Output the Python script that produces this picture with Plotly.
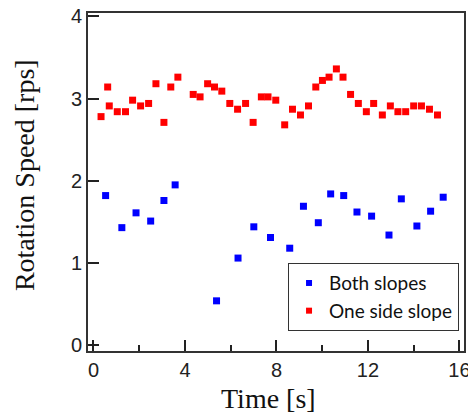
import plotly.graph_objects as go

# Data
both_t = [0.53, 1.24, 1.86, 2.50, 3.08, 3.57, 5.38, 6.32, 7.01, 7.74, 8.58,
          9.18, 9.83, 10.37, 10.94, 11.52, 12.16, 12.92, 13.46, 14.14, 14.74, 15.29]
both_v = [1.82, 1.43, 1.61, 1.51, 1.76, 1.95, 0.54, 1.06, 1.44, 1.31, 1.18,
          1.69, 1.49, 1.84, 1.82, 1.62, 1.57, 1.34, 1.78, 1.45, 1.63, 1.80]

one_t = [0.33, 0.62, 0.69, 1.04, 1.40, 1.71, 2.06, 2.41, 2.73, 3.08, 3.38, 3.69,
         4.36, 4.66, 4.99, 5.29, 5.61, 5.96, 6.30, 6.65, 6.98, 7.34, 7.63, 7.97,
         8.36, 8.70, 9.05, 9.40, 9.72, 10.01, 10.30, 10.62, 10.91, 11.24, 11.58,
         11.93, 12.25, 12.63, 12.98, 13.31, 13.65, 14.00, 14.34, 14.69, 15.04]
one_v = [2.78, 3.14, 2.91, 2.84, 2.84, 2.98, 2.91, 2.94, 3.18, 2.71, 3.14, 3.26,
         3.05, 3.02, 3.18, 3.14, 3.09, 2.94, 2.87, 2.94, 2.71, 3.02, 3.02, 2.98,
         2.68, 2.87, 2.80, 2.91, 3.14, 3.22, 3.26, 3.36, 3.26, 3.05, 2.94,
         2.84, 2.94, 2.80, 2.91, 2.84, 2.84, 2.91, 2.91, 2.87, 2.80]

series_names = ["Both slopes", "One side slope"]
x_title = "Time [s]"
y_title = "Rotation Speed [rps]"
x_ticks = [0, 4, 8, 12, 16]
x_minor = [2, 6, 10, 14]
y_ticks = [0, 1, 2, 3, 4]

fig = go.Figure()
fig.add_trace(go.Scatter(x=both_t, y=both_v, mode="markers", showlegend=False,
                         marker=dict(symbol="square", size=7, color="#0000FF")))
fig.add_trace(go.Scatter(x=one_t, y=one_v, mode="markers", showlegend=False,
                         marker=dict(symbol="square", size=7, color="#FF0000")))
# legend entries (smaller symbols as in the reference)
fig.add_trace(go.Scatter(x=[None], y=[None], mode="markers", name=series_names[0],
                         marker=dict(symbol="square", size=6, color="#0000FF")))
fig.add_trace(go.Scatter(x=[None], y=[None], mode="markers", name=series_names[1],
                         marker=dict(symbol="square", size=6, color="#FF0000")))

axis_common = dict(showgrid=False, zeroline=False, showline=True, linecolor="#333",
                   linewidth=1.8, mirror=True, ticks="inside", tickcolor="#222",
                   tickwidth=1.5, ticklen=11, automargin=False,
                   ticklabeloverflow="allow",
                   tickfont=dict(family="Liberation Sans, Arial", size=20, color="#222"))

title_font = dict(family="Liberation Serif, Times New Roman", size=28, color="#111")

# The page body has an 8px default margin, so the figure is 8px smaller than
# the window and the margins are reduced accordingly.
fig.update_layout(
    width=468, height=406,
    margin=dict(l=80, r=12, t=5, b=63),
    paper_bgcolor="white", plot_bgcolor="white",
    xaxis=dict(**axis_common, range=[-0.24, 16.2], tickvals=x_ticks,
               minor=dict(ticks="inside", ticklen=6, tickvals=x_minor,
                          tickcolor="#222", tickwidth=1.5)),
    yaxis=dict(**axis_common, range=[-0.07, 4.04], tickvals=y_ticks),
    legend=dict(x=0.532, y=0.26, xanchor="left", yanchor="top",
                bgcolor="white", bordercolor="#333", borderwidth=1,
                font=dict(family="Lato", size=19, color="#111"),
                itemwidth=30, tracegroupgap=0),
    annotations=[
        dict(text=x_title, xref="paper", yref="paper", x=0.481, y=-0.142,
             xanchor="center", yanchor="middle", showarrow=False, font=title_font),
        dict(text=y_title, xref="paper", yref="paper", x=-0.167, y=0.521,
             xanchor="center", yanchor="middle", textangle=-90, showarrow=False,
             font=title_font),
    ],
)

fig.write_html("out.html")
